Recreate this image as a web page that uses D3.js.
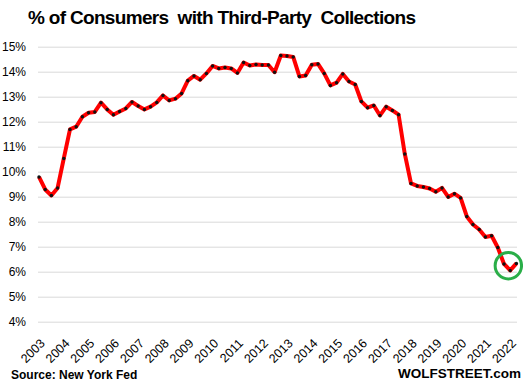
<!DOCTYPE html>
<html>
<head>
<meta charset="utf-8">
<script src="https://cdn.jsdelivr.net/npm/d3@7"></script>
<style>
  body { margin: 0; background: #fff; }
  text { font-family: "Liberation Sans", Arial, sans-serif; }
</style>
</head>
<body>
<svg id="chart" width="523" height="389"></svg>
<script>
// quarterly, 2003 Q1 .. 2022 Q2
let years = ["2003", "2004", "2005", "2006", "2007", "2008", "2009", "2010", "2011", "2012",
             "2013", "2014", "2015", "2016", "2017", "2018", "2019", "2020", "2021", "2022"];
let yTicks = [4, 5, 6, 7, 8, 9, 10, 11, 12, 13, 14, 15];
let shares = [
  9.79, 9.29, 9.05, 9.35, 10.53, 11.69, 11.80, 12.20, 12.36, 12.39,
  12.76, 12.49, 12.28, 12.41, 12.53, 12.79, 12.63, 12.49, 12.60, 12.77,
  13.05, 12.85, 12.92, 13.13, 13.64, 13.83, 13.68, 13.93, 14.23, 14.13,
  14.17, 14.13, 13.95, 14.37, 14.25, 14.29, 14.27, 14.27, 13.98, 14.65,
  14.63, 14.59, 13.81, 13.85, 14.28, 14.31, 13.93, 13.45, 13.56, 13.91,
  13.61, 13.49, 12.81, 12.56, 12.65, 12.25, 12.60, 12.45, 12.28, 10.71,
  9.53, 9.43, 9.39, 9.33, 9.20, 9.35, 8.99, 9.12, 8.95, 8.21,
  7.89, 7.69, 7.39, 7.44, 6.97, 6.31, 6.05, 6.33
];
// circled spot near the end: [quarter index, value]
let highlight = [75.7, 6.24];

let svg = d3.select("#chart");

let xScale = d3.scaleLinear()
  .domain([0, shares.length - 1])
  .range([39, 516.4]);

let yScale = d3.scaleLinear()
  .domain([4, 15])
  .range([321.7, 46.7]);

// title
svg.append("text")
  .attr("x", 28)
  .attr("y", 24)
  .attr("textLength", 388)
  .style("white-space", "pre")
  .style("font-size", "19px")
  .style("font-weight", "bold")
  .text("% of Consumers  with Third-Party  Collections");

// gridlines + y labels
let yAxis = d3.axisLeft(yScale)
  .tickValues(yTicks)
  .tickSize(-479)
  .tickPadding(12)
  .tickFormat(function(d) { return d + "%"; });

let gy = svg.append("g")
  .attr("transform", "translate(38,0)")
  .call(yAxis);
gy.select(".domain").remove();
gy.selectAll("line").attr("stroke", "#d9d9d9");
gy.selectAll("text")
  .attr("x", -12)
  .style("font-size", "12px")
  .style("fill", "#000");

// year labels, one per Q1
let xAxis = d3.axisBottom(xScale)
  .tickValues(years.map(function(d, i) { return i * 4; }))
  .tickSize(0)
  .tickFormat(function(d) { return years[d / 4]; });

let gx = svg.append("g")
  .attr("transform", "translate(0,325)")
  .call(xAxis);
gx.select(".domain").remove();
gx.selectAll("text")
  .attr("text-anchor", "end")
  .attr("dx", "0")
  .attr("dy", "0")
  .attr("transform", "translate(4,17) rotate(-45)")
  .style("font-size", "12.5px")
  .style("fill", "#000");

// line
let line = d3.line()
  .x(function(d, i) { return xScale(i); })
  .y(function(d) { return yScale(d); });

svg.append("path")
  .datum(shares)
  .attr("d", line)
  .attr("fill", "none")
  .attr("stroke", "#ff0000")
  .attr("stroke-width", 4)
  .attr("stroke-linejoin", "round");

svg.selectAll("circle.dot")
  .data(shares)
  .enter()
    .append("circle")
    .attr("class", "dot")
    .attr("cx", function(d, i) { return xScale(i); })
    .attr("cy", function(d) { return yScale(d); })
    .attr("r", 1.7)
    .style("fill", "#111");

// green circle
svg.append("circle")
  .attr("cx", xScale(highlight[0]))
  .attr("cy", yScale(highlight[1]))
  .attr("r", 13.2)
  .attr("fill", "none")
  .attr("stroke", "#2aae48")
  .attr("stroke-width", 3);

// footer
svg.append("text")
  .attr("x", 11)
  .attr("y", 379)
  .style("font-size", "12px")
  .style("font-weight", "bold")
  .text("Source: New York Fed");

svg.append("text")
  .attr("x", 521)
  .attr("y", 378)
  .attr("text-anchor", "end")
  .style("font-size", "13.5px")
  .style("font-weight", "bold")
  .text("WOLFSTREET.com");
</script>
</body>
</html>
